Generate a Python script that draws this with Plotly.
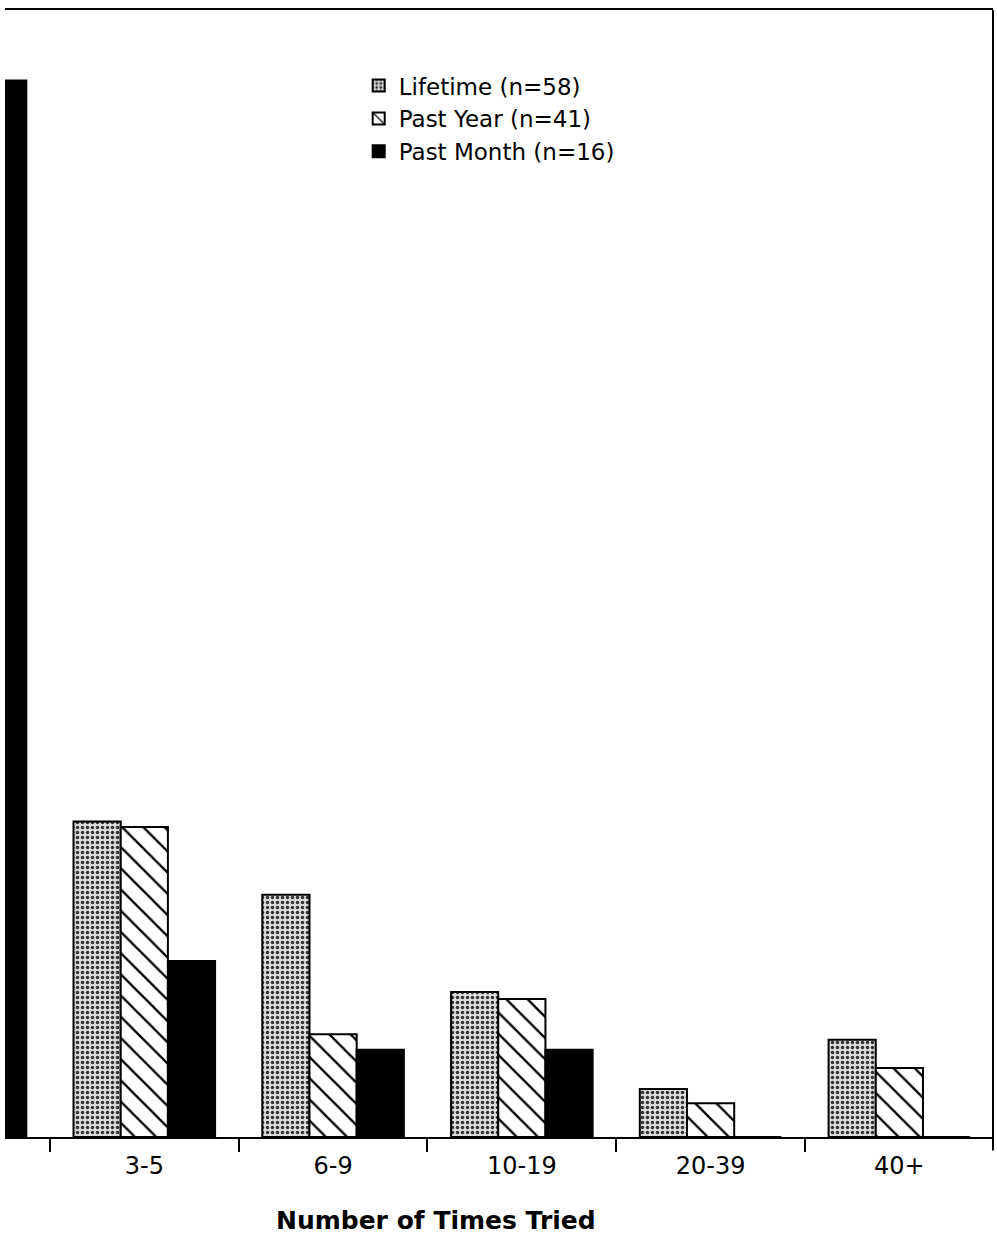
import plotly.graph_objects as go

categories = ["1-2", "3-5", "6-9", "10-19", "20-39", "40+"]
lifetime = [39.7, 22.4, 17.2, 10.3, 3.4, 6.9]
past_year = [53.7, 22.0, 7.3, 9.8, 2.4, 4.9]
past_month = [75.0, 12.5, 6.2, 6.2, 0, 0]
series_names = ["Lifetime (n=58)", "Past Year (n=41)", "Past Month (n=16)"]

FONT = "DejaVu Sans"

fig = go.Figure()
fig.add_trace(go.Bar(
    x=categories, y=lifetime, name=series_names[0],
    marker=dict(color="white", line=dict(color="black", width=2),
                pattern=dict(shape=".", fgcolor="#333333", bgcolor="#dcdcdc",
                             size=5, solidity=0.38, fillmode="replace")),
))
fig.add_trace(go.Bar(
    x=categories, y=past_year, name=series_names[1],
    marker=dict(color="white", line=dict(color="black", width=2),
                pattern=dict(shape="\\", fgcolor="black", bgcolor="white",
                             size=15, solidity=0.15, fillmode="replace")),
))
fig.add_trace(go.Bar(
    x=categories, y=past_month, name=series_names[2],
    marker=dict(color="black", line=dict(color="black", width=2)),
))

fig.update_layout(
    width=997, height=1247,
    margin=dict(l=5, r=4, t=10, b=110, autoexpand=False),
    paper_bgcolor="white", plot_bgcolor="white",
    barmode="group", bargap=0.25, bargroupgap=0,
    font=dict(family=FONT, size=22, color="black"),
    showlegend=True,
    legend=dict(x=0.358, y=0.952, xanchor="left", yanchor="top",
                bgcolor="rgba(0,0,0,0)", font=dict(family=FONT, size=23, color="black"),
                tracegroupgap=0, itemwidth=30),
    xaxis=dict(type="category", range=[0.262, 5.496], showline=True, linecolor="black",
               linewidth=2, mirror=True, ticks="outside", tickson="boundaries",
               ticklen=13, tickwidth=2, tickcolor="black", showgrid=False,
               automargin=False, ticklabelstandoff=6,
               tickfont=dict(family=FONT, size=24, color="black")),
    yaxis=dict(range=[0, 80], showline=False, showticklabels=False, ticks="",
               showgrid=False, zeroline=False, automargin=False),
    shapes=[dict(type="line", xref="paper", yref="paper", x0=1, x1=1,
                 y0=-0.012, y1=1.0, line=dict(color="black", width=2))],
    annotations=[dict(text="<b>Number of Times Tried</b>", xref="paper", yref="paper",
                      x=0.436, y=-0.074, xanchor="center", yanchor="middle",
                      showarrow=False, font=dict(family=FONT, size=25, color="black"))],
)

fig.write_html("out.html", config={"displayModeBar": False},
               post_script="document.body.style.margin='0';")
